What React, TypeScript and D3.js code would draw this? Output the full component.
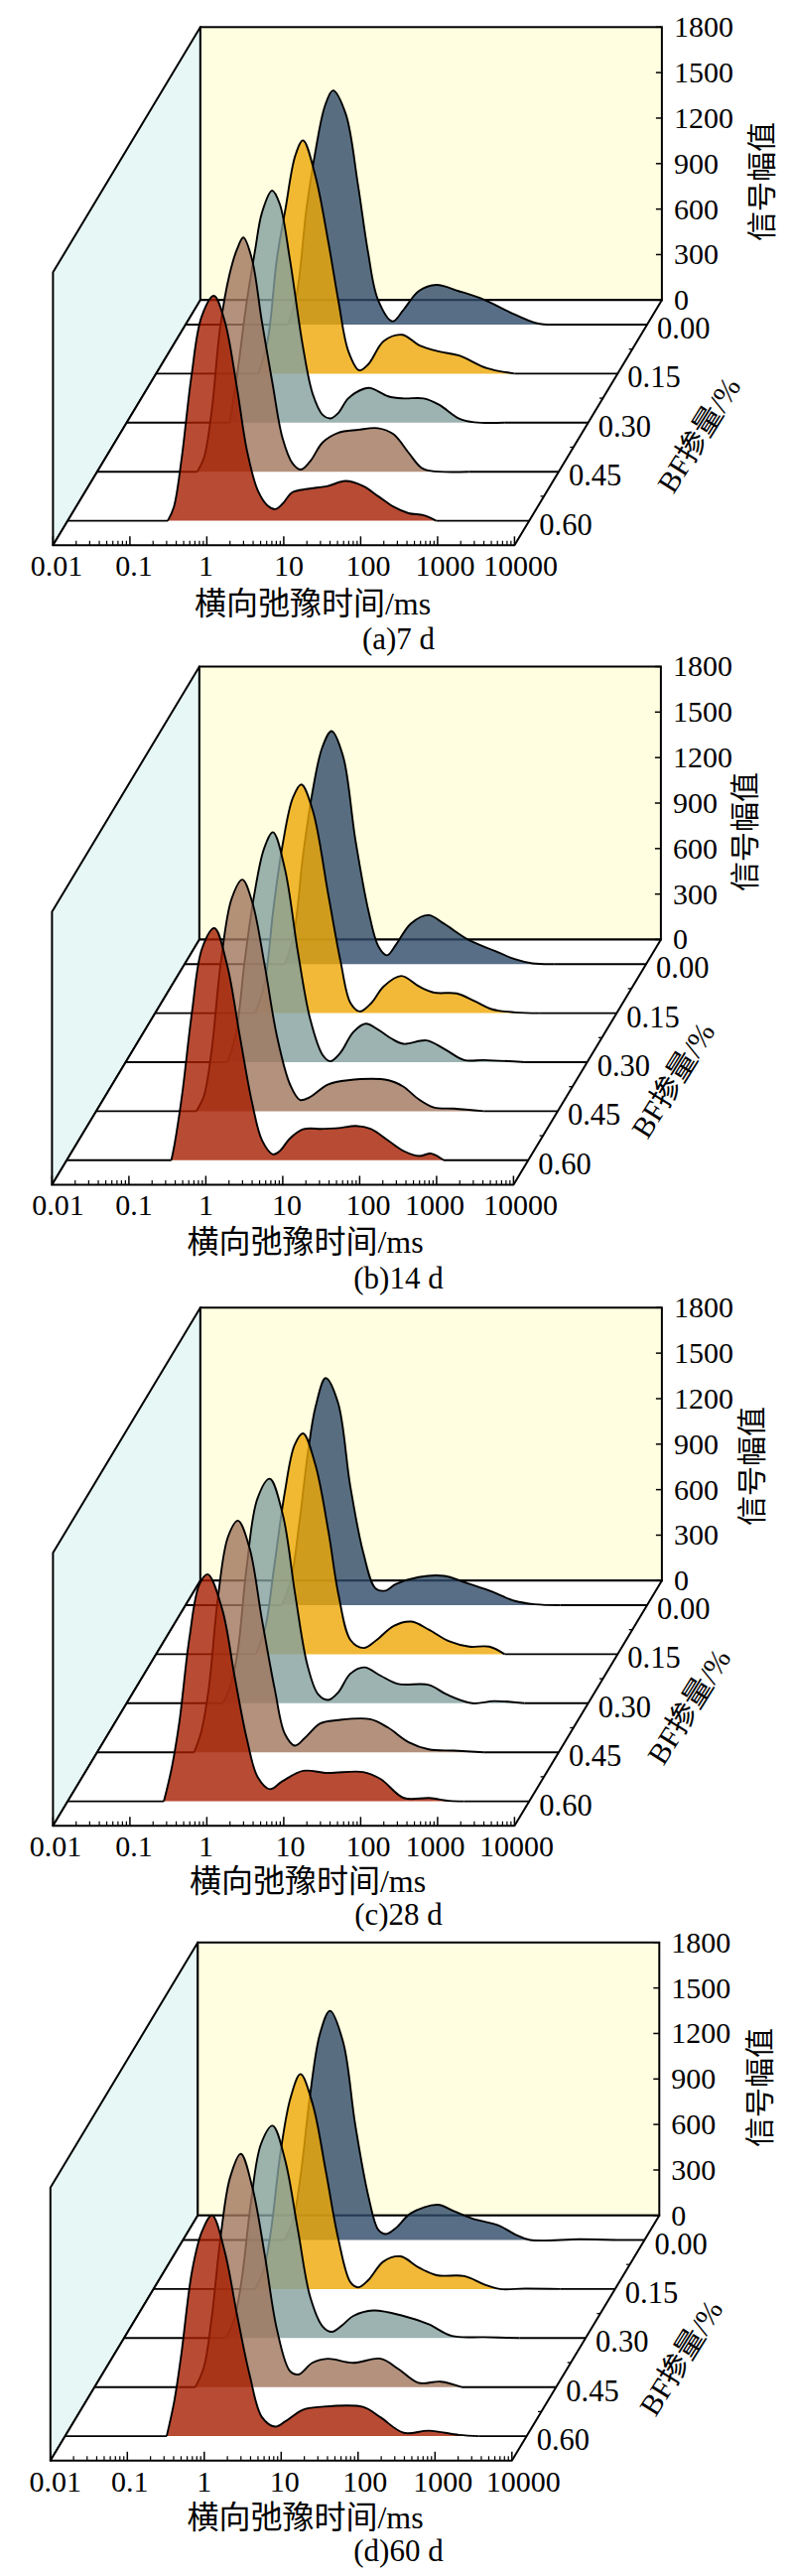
import React from 'react';
import * as d3 from 'd3';

type Pt = [number, number];

// tick labels and categories
const xTicks = [0.01, 0.1, 1, 10, 100, 1000, 10000];
const yTicks = [0, 300, 600, 900, 1200, 1500, 1800];
const bfLevels = [0.0, 0.15, 0.3, 0.45, 0.6];
const bfMinor = [0.075, 0.225, 0.375, 0.525];
const fills = ['#2E4A68', '#EDA705', '#83A09F', '#A0755D', '#A61E00'];

// curves: [lg(T2 / ms), amplitude]
// (a) 7 d
const a000: Pt[] = [[-0.67, 0], [-0.55, 220], [-0.43, 760], [-0.31, 1150], [-0.19, 1440], [-0.085, 1544], [0.08, 1392], [0.24, 924], [0.37, 482], [0.5, 165], [0.69, 22], [0.83, 96], [1.03, 221], [1.26, 262], [1.55, 221], [1.88, 165], [2.21, 83], [2.57, 8], [2.8, 0]];
const a015: Pt[] = [[-0.67, 0], [-0.55, 220], [-0.43, 760], [-0.32, 1083], [-0.19, 1440], [-0.09, 1538], [0.07, 1304], [0.24, 863], [0.37, 477], [0.5, 146], [0.64, 22], [0.76, 63], [0.96, 215], [1.2, 256], [1.42, 187], [1.68, 146], [1.94, 119], [2.3, 36], [2.66, 0]];
const a030: Pt[] = [[-0.66, 0], [-0.56, 330], [-0.45, 760], [-0.33, 1139], [-0.24, 1387], [-0.11, 1530], [-0.01, 1442], [0.12, 1083], [0.29, 505], [0.42, 187], [0.55, 50], [0.65, 28], [0.75, 63], [0.88, 160], [1.08, 223], [1.17, 229], [1.4, 174], [1.6, 160], [1.86, 160], [2.06, 119], [2.32, 28], [2.52, 3], [2.91, 0]];
const a045: Pt[] = [[-0.7, 0], [-0.61, 96], [-0.51, 408], [-0.4, 959], [-0.28, 1300], [-0.18, 1470], [-0.1, 1544], [0.01, 1406], [0.14, 993], [0.28, 579], [0.41, 221], [0.54, 55], [0.65, 14], [0.77, 69], [0.93, 193], [1.13, 256], [1.39, 276], [1.65, 287], [1.85, 248], [2.05, 124], [2.21, 28], [2.34, 5], [2.83, 0]];
const a060: Pt[] = [[-0.7, 0], [-0.62, 91], [-0.52, 408], [-0.39, 960], [-0.26, 1345], [-0.1, 1483], [0.04, 1318], [0.2, 877], [0.33, 463], [0.47, 201], [0.6, 99], [0.7, 77], [0.79, 110], [0.92, 187], [1.12, 210], [1.38, 229], [1.61, 262], [1.84, 229], [2.04, 160], [2.24, 91], [2.43, 50], [2.63, 36], [2.79, 0]];
// (b) 14 d
const b000: Pt[] = [[-0.7, 0], [-0.58, 200], [-0.46, 720], [-0.34, 1130], [-0.21, 1430], [-0.09, 1536], [0.06, 1370], [0.22, 819], [0.39, 350], [0.52, 116], [0.63, 58], [0.75, 130], [0.94, 267], [1.17, 323], [1.37, 267], [1.7, 157], [2.03, 88], [2.29, 33], [2.52, 5], [2.81, 0]];
const b015: Pt[] = [[-0.7, 0], [-0.58, 190], [-0.46, 700], [-0.34, 1120], [-0.21, 1420], [-0.1, 1508], [0.05, 1334], [0.25, 783], [0.41, 342], [0.54, 66], [0.66, 11], [0.81, 66], [0.97, 176], [1.2, 245], [1.43, 176], [1.63, 135], [1.92, 130], [2.15, 80], [2.38, 25], [2.68, 5], [3.0, 0]];
const b030: Pt[] = [[-0.68, 0], [-0.57, 180], [-0.45, 680], [-0.33, 1100], [-0.2, 1410], [-0.085, 1516], [0.07, 1274], [0.24, 722], [0.4, 281], [0.56, 47], [0.66, 6], [0.79, 61], [0.96, 199], [1.12, 254], [1.29, 212], [1.45, 157], [1.61, 121], [1.91, 143], [2.14, 88], [2.4, 14], [2.66, 14], [3.19, 0]];
const b045: Pt[] = [[-0.7, 0], [-0.6, 100], [-0.5, 400], [-0.38, 980], [-0.24, 1400], [-0.1, 1527], [0.03, 1376], [0.19, 962], [0.35, 494], [0.52, 176], [0.65, 74], [0.78, 94], [1.01, 176], [1.27, 204], [1.8, 204], [1.99, 163], [2.19, 80], [2.39, 25], [2.65, 17], [3.04, 0]];
const b060: Pt[] = [[-0.64, 0], [-0.6, 100], [-0.5, 433], [-0.37, 984], [-0.24, 1398], [-0.08, 1530], [0.085, 1287], [0.25, 819], [0.41, 378], [0.54, 130], [0.68, 39], [0.77, 61], [0.9, 143], [1.07, 204], [1.33, 207], [1.53, 212], [1.76, 226], [1.95, 207], [2.18, 130], [2.38, 61], [2.58, 28], [2.74, 44], [2.9, 0]];
// (c) 28 d
const c000: Pt[] = [[-0.75, 0], [-0.63, 170], [-0.52, 550], [-0.41, 1006], [-0.31, 1310], [-0.18, 1497], [-0.02, 1337], [0.14, 786], [0.31, 345], [0.47, 110], [0.6, 96], [0.73, 138], [1.03, 185], [1.36, 193], [1.62, 152], [1.95, 96], [2.28, 28], [2.54, 6], [2.87, 0]];
const c015: Pt[] = [[-0.7, 0], [-0.58, 180], [-0.47, 560], [-0.33, 1060], [-0.2, 1380], [-0.09, 1456], [0.07, 1249], [0.24, 808], [0.37, 394], [0.53, 91], [0.7, 41], [0.86, 91], [1.09, 187], [1.32, 215], [1.55, 160], [1.81, 85], [2.07, 50], [2.33, 50], [2.53, 0]];
const c030: Pt[] = [[-0.75, 0], [-0.66, 100], [-0.56, 330], [-0.44, 900], [-0.3, 1350], [-0.14, 1480], [0.03, 1243], [0.19, 720], [0.35, 251], [0.49, 58], [0.62, 22], [0.75, 72], [0.91, 196], [1.09, 237], [1.3, 182], [1.53, 127], [1.93, 121], [2.16, 58], [2.49, 0], [2.78, 14], [3.17, 0]];
const c045: Pt[] = [[-0.74, 0], [-0.65, 130], [-0.55, 420], [-0.43, 1020], [-0.3, 1420], [-0.17, 1527], [-0.02, 1348], [0.14, 880], [0.31, 411], [0.44, 121], [0.57, 44], [0.7, 94], [0.9, 190], [1.13, 212], [1.55, 218], [1.78, 163], [2.05, 66], [2.31, 19], [2.64, 11], [3.03, 0]];
const c060: Pt[] = [[-0.75, 0], [-0.65, 215], [-0.55, 518], [-0.42, 1070], [-0.29, 1428], [-0.18, 1497], [0.01, 1263], [0.17, 822], [0.33, 408], [0.47, 160], [0.63, 80], [0.79, 132], [1.06, 201], [1.38, 187], [1.84, 193], [2.07, 146], [2.37, 22], [2.7, 22], [2.96, 3], [3.15, 0]];
// (d) 60 d
const d000: Pt[] = [[-0.68, 0], [-0.57, 130], [-0.47, 430], [-0.35, 950], [-0.22, 1360], [-0.09, 1511], [0.08, 1307], [0.24, 755], [0.41, 287], [0.54, 66], [0.64, 39], [0.77, 80], [0.96, 176], [1.31, 232], [1.52, 190], [1.75, 143], [2.11, 94], [2.31, 39], [2.51, 0], [3.16, 5], [3.62, 0]];
const d015: Pt[] = [[-0.68, 0], [-0.57, 120], [-0.47, 400], [-0.35, 900], [-0.22, 1260], [-0.09, 1417], [0.07, 1216], [0.24, 775], [0.4, 334], [0.56, 44], [0.66, 11], [0.79, 58], [0.99, 182], [1.21, 215], [1.45, 141], [1.68, 91], [2.04, 85], [2.3, 30], [2.5, 0], [2.83, 3], [3.29, 0]];
const d030: Pt[] = [[-0.68, 0], [-0.57, 120], [-0.47, 390], [-0.35, 900], [-0.22, 1280], [-0.07, 1400], [0.09, 1180], [0.26, 711], [0.42, 270], [0.58, 77], [0.7, 41], [0.85, 91], [0.98, 146], [1.24, 182], [1.63, 146], [1.96, 91], [2.26, 14], [2.68, 6], [3.14, 0]];
const d045: Pt[] = [[-0.69, 0], [-0.58, 130], [-0.48, 450], [-0.36, 1000], [-0.24, 1380], [-0.1, 1538], [0.05, 1318], [0.21, 877], [0.37, 380], [0.54, 105], [0.65, 83], [0.83, 160], [1.03, 187], [1.36, 160], [1.72, 187], [1.95, 119], [2.21, 28], [2.5, 36], [2.77, 0]];
const d060: Pt[] = [[-0.68, 0], [-0.58, 234], [-0.49, 538], [-0.35, 1089], [-0.22, 1351], [-0.09, 1456], [0.07, 1227], [0.24, 786], [0.4, 400], [0.56, 124], [0.73, 63], [0.86, 96], [1.09, 174], [1.32, 193], [1.87, 193], [2.1, 124], [2.4, 22], [2.73, 36], [3.12, 8], [3.38, 0]];

const panels = [
  { caption: '(a)7 d', x0: 53.4, y0: 549.3, curves: [a000, a015, a030, a045, a060], nudge: [3.5, 4, -1, 5, 7.5, 7.5, 6], yLabel: [767.5, 183], zLabel: [704, 438], xLabel: [315, 608], cap: 644 },
  { caption: '(b)14 d', x0: 52.4, y0: 1193.5, curves: [b000, b015, b030, b045, b060], nudge: [6, 5, 0, 4, 8.5, -2, 7], yLabel: [750, 838], zLabel: [678, 1088], xLabel: [307.5, 1251], cap: 1288 },
  { caption: '(c)28 d', x0: 53.4, y0: 1839.3, curves: [c000, c015, c030, c045, c060], nudge: [2.5, 4, -1, 6.5, 7.5, -2.5, 2], yLabel: [757, 1477], zLabel: [694, 1719], xLabel: [310, 1895], cap: 1929 },
  { caption: '(d)60 d', x0: 50.8, y0: 2478.8, curves: [d000, d015, d030, d045, d060], nudge: [5, 2.5, 0, 3.5, 7, 8, 11.5], yLabel: [765, 2103], zLabel: [686, 2375], xLabel: [307.5, 2536], cap: 2570 },
];

const W = 465;
const H = 275;
const DX = 148.5;
const DY = -247;

const xScale = d3.scaleLog([0.01, 10000], [0, W]);
const yScale = d3.scaleLinear([0, 1800], [0, H]);
// depth along the floor, 0 = front edge, 1 = back wall
const zScale = d3.scaleLinear([0.675, -0.075], [0, 1]);

const xMinor = d3.range(-2, 4).flatMap((e) => d3.range(2, 10).map((m) => m * 10 ** e));

const px = (lg: number) => xScale(10 ** lg);

const Panel: React.FC<{ p: (typeof panels)[number] }> = ({ p }) => {
  const curve = d3.curveCatmullRom.alpha(0.5);
  const line = d3.line<Pt>().x((d) => px(d[0])).y((d) => -yScale(d[1])).curve(curve);
  const area = d3.area<Pt>().x((d) => px(d[0])).y1((d) => -yScale(d[1])).y0(0).curve(curve);
  return (
    <g>
      <g transform={`translate(${p.x0},${p.y0})`}>
        <path d={`M0,0L${DX},${DY}V${DY - H}L0,${-H}Z`} fill="#E6F7F5" stroke="#000" strokeWidth={2} strokeLinejoin="round" />
        <rect x={DX} y={DY - H} width={W} height={H} fill="#FFFEE0" stroke="#000" strokeWidth={2} />
        <path d={`M0,0L${DX},${DY}H${DX + W}L${W},0Z`} fill="#fff" stroke="#000" strokeWidth={2} strokeLinejoin="round" />

        {bfMinor.map((b) => {
          const z = zScale(b);
          return <line key={b} x1={W + z * DX} x2={W + z * DX - 3.5} y1={z * DY} y2={z * DY} stroke="#000" strokeWidth={1.3} />;
        })}

        {xTicks.map((t) => (
          <line key={t} x1={xScale(t)} x2={xScale(t)} y1={0} y2={-9} stroke="#000" strokeWidth={1.5} />
        ))}
        {xMinor.map((t) => (
          <line key={t} x1={xScale(t)} x2={xScale(t)} y1={0} y2={-4.5} stroke="#000" strokeWidth={1.2} />
        ))}
        {yTicks.map((t) => (
          <g key={t}>
            <line x1={DX + W - 6} x2={DX + W} y1={DY - yScale(t)} y2={DY - yScale(t)} stroke="#000" strokeWidth={1.5} />
            <text x={DX + W + 12} y={DY - yScale(t)} dy="0.33em" fontSize={30}>{t}</text>
          </g>
        ))}
        {xTicks.map((t, i) => (
          <text key={t} x={xScale(t) + p.nudge[i]} y={21} dy="0.33em" fontSize={30} textAnchor="middle">{t}</text>
        ))}

        {bfLevels.map((b, i) => {
          const z = zScale(b);
          const pts = p.curves[i];
          const first = pts[0][0];
          const last = pts[pts.length - 1][0];
          return (
            <g key={b} transform={`translate(${z * DX},${z * DY})`}>
              <path d={area(pts) ?? ''} fill={fills[i]} fillOpacity={0.8} />
              <path d={line(pts) ?? ''} fill="none" stroke="#000" strokeWidth={1.9} />
              <line x1={0} x2={px(first)} y1={0} y2={0} stroke="#000" strokeWidth={1.9} />
              <line x1={px(last)} x2={W} y1={0} y2={0} stroke="#000" strokeWidth={1.9} />
              <text x={W + 10} y={4} dy="0.33em" fontSize={30.5}>{b.toFixed(2)}</text>
            </g>
          );
        })}
      </g>

      <text transform={`translate(${p.yLabel[0]},${p.yLabel[1]}) rotate(-90)`} textAnchor="middle" dy="0.35em" fontSize={30}>信号幅值</text>
      <text transform={`translate(${p.zLabel[0]},${p.zLabel[1]}) rotate(-58)`} textAnchor="middle" dy="0.35em" fontSize={30}>BF掺量/%</text>
      <text x={p.xLabel[0]} y={p.xLabel[1]} textAnchor="middle" dy="0.35em" fontSize={32}>横向弛豫时间/ms</text>
      <text x={401.5} y={p.cap} textAnchor="middle" dy="0.33em" fontSize={31}>{p.caption}</text>
    </g>
  );
};

export default function App() {
  return (
    <svg
      width={797}
      height={2595}
      viewBox="0 0 797 2595"
      style={{ position: 'absolute', left: 0, top: 0, fontFamily: '"Liberation Serif","Noto Sans CJK SC",serif' }}
    >
      <rect width={797} height={2595} fill="#fff" />
      {panels.map((p) => (
        <Panel key={p.caption} p={p} />
      ))}
    </svg>
  );
}
